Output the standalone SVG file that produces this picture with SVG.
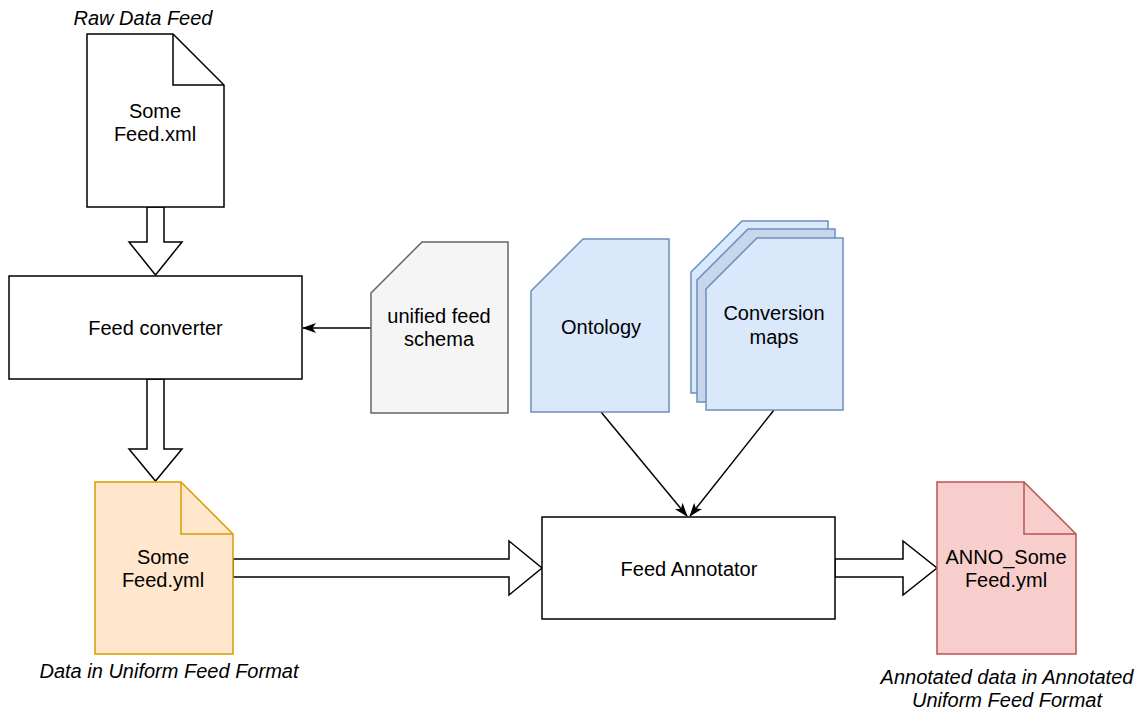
<svg xmlns="http://www.w3.org/2000/svg" width="1141" height="713" viewBox="0 0 1141 713">
  <style>
    .lbl { font-family: "Liberation Sans", Arial, sans-serif; font-size: 20px; fill: #000; text-anchor: middle; }
    .cap { font-family: "Liberation Sans", Arial, sans-serif; font-size: 20px; font-style: italic; fill: #000; text-anchor: middle; }
    .box { fill: #fff; stroke: #000; stroke-width: 1.5; }
    .blk { fill: #fff; stroke: #000; stroke-width: 1.5; stroke-linejoin: miter; }
    .edge { fill: none; stroke: #000; stroke-width: 1.5; }
    .fold { fill: none; stroke-width: 1.5; }
  </style>
  <defs>
    <marker id="arrow" viewBox="0 0 14 10" refX="13" refY="5" markerWidth="14" markerHeight="10" orient="auto" markerUnits="userSpaceOnUse">
      <path d="M0,0 L14,5 L0,10 L3.5,5 Z" fill="#000"/>
    </marker>
  </defs>

  <rect width="1141" height="713" fill="#fff"/>

  <!-- connectors -->
  <g id="connectors">
    <!-- thick block arrows -->
    <polygon class="blk" points="147,207 164,207 164,242 182,242 155.5,275 129,242 147,242"/>
    <polygon class="blk" points="147,379 164,379 164,449 182,449 155.5,481 129,449 147,449"/>
    <polygon class="blk" points="233,559 509,559 509,541 542,568 509,595 509,577 233,577"/>
    <polygon class="blk" points="835,559 903,559 903,541 937,568 903,595 903,577 835,577"/>
    <!-- thin arrows -->
    <line class="edge" x1="371" y1="328" x2="303" y2="328" marker-end="url(#arrow)"/>
    <line class="edge" x1="601" y1="412" x2="687" y2="516" marker-end="url(#arrow)"/>
    <line class="edge" x1="774" y1="410" x2="690" y2="516" marker-end="url(#arrow)"/>
  </g>

  <!-- raw feed document -->
  <g id="raw-feed">
    <path class="box" d="M87,34 H173 L224,85 V207 H87 Z"/>
    <path class="fold" stroke="#000" d="M173,34 V85 H224"/>
    <text class="lbl" x="155" y="118">Some</text>
    <text class="lbl" x="155" y="141">Feed.xml</text>
    <text class="cap" x="143" y="25">Raw Data Feed</text>
  </g>

  <!-- converter process -->
  <g id="feed-converter">
    <rect class="box" x="9" y="276" width="293" height="103"/>
    <text class="lbl" x="155.5" y="335">Feed converter</text>
  </g>

  <!-- schema card -->
  <g id="unified-schema">
    <path d="M371,293 L422,242 H508 V413 H371 Z" fill="#f5f5f5" stroke="#666666" stroke-width="1.5"/>
    <text class="lbl" x="439" y="323">unified feed</text>
    <text class="lbl" x="439" y="346">schema</text>
  </g>

  <!-- ontology card -->
  <g id="ontology">
    <path d="M531,291 L583,239 H669 V412 H531 Z" fill="#dae8fc" stroke="#6c8ebf" stroke-width="1.5"/>
    <text class="lbl" x="601" y="334">Ontology</text>
  </g>

  <!-- conversion maps stack -->
  <g id="conversion-maps">
    <path d="M691,272 L742,221 H828 V393 H691 Z" fill="#dae8fc" stroke="#6c8ebf" stroke-width="1.5"/>
    <path d="M697,280 L748,229 H835 V402 H697 Z" fill="#c8d6eb" stroke="#6c8ebf" stroke-width="1.5"/>
    <path d="M706,289 L757,238 H843 V410 H706 Z" fill="#dae8fc" stroke="#6c8ebf" stroke-width="1.5"/>
    <text class="lbl" x="774" y="320">Conversion</text>
    <text class="lbl" x="774" y="344">maps</text>
  </g>

  <!-- uniform feed document -->
  <g id="uniform-feed">
    <path d="M95,482 H181 L233,534 V654 H95 Z" fill="#ffe6cc" stroke="#d79b00" stroke-width="1.5"/>
    <path class="fold" stroke="#d79b00" d="M181,482 V534 H233"/>
    <text class="lbl" x="163" y="564">Some</text>
    <text class="lbl" x="163" y="587">Feed.yml</text>
    <text class="cap" x="169" y="678">Data in Uniform Feed Format</text>
  </g>

  <!-- annotator process -->
  <g id="feed-annotator">
    <rect class="box" x="542" y="517" width="293" height="102"/>
    <text class="lbl" x="689" y="576">Feed Annotator</text>
  </g>

  <!-- annotated feed document -->
  <g id="annotated-feed">
    <path d="M937,482 H1024 L1076,534 V654 H937 Z" fill="#f8cecc" stroke="#b85450" stroke-width="1.5"/>
    <path class="fold" stroke="#b85450" d="M1024,482 V534 H1076"/>
    <text class="lbl" x="1006" y="564">ANNO_Some</text>
    <text class="lbl" x="1006" y="587">Feed.yml</text>
    <text class="cap" x="1007" y="684">Annotated data in Annotated</text>
    <text class="cap" x="1007" y="707">Uniform Feed Format</text>
  </g>
</svg>
